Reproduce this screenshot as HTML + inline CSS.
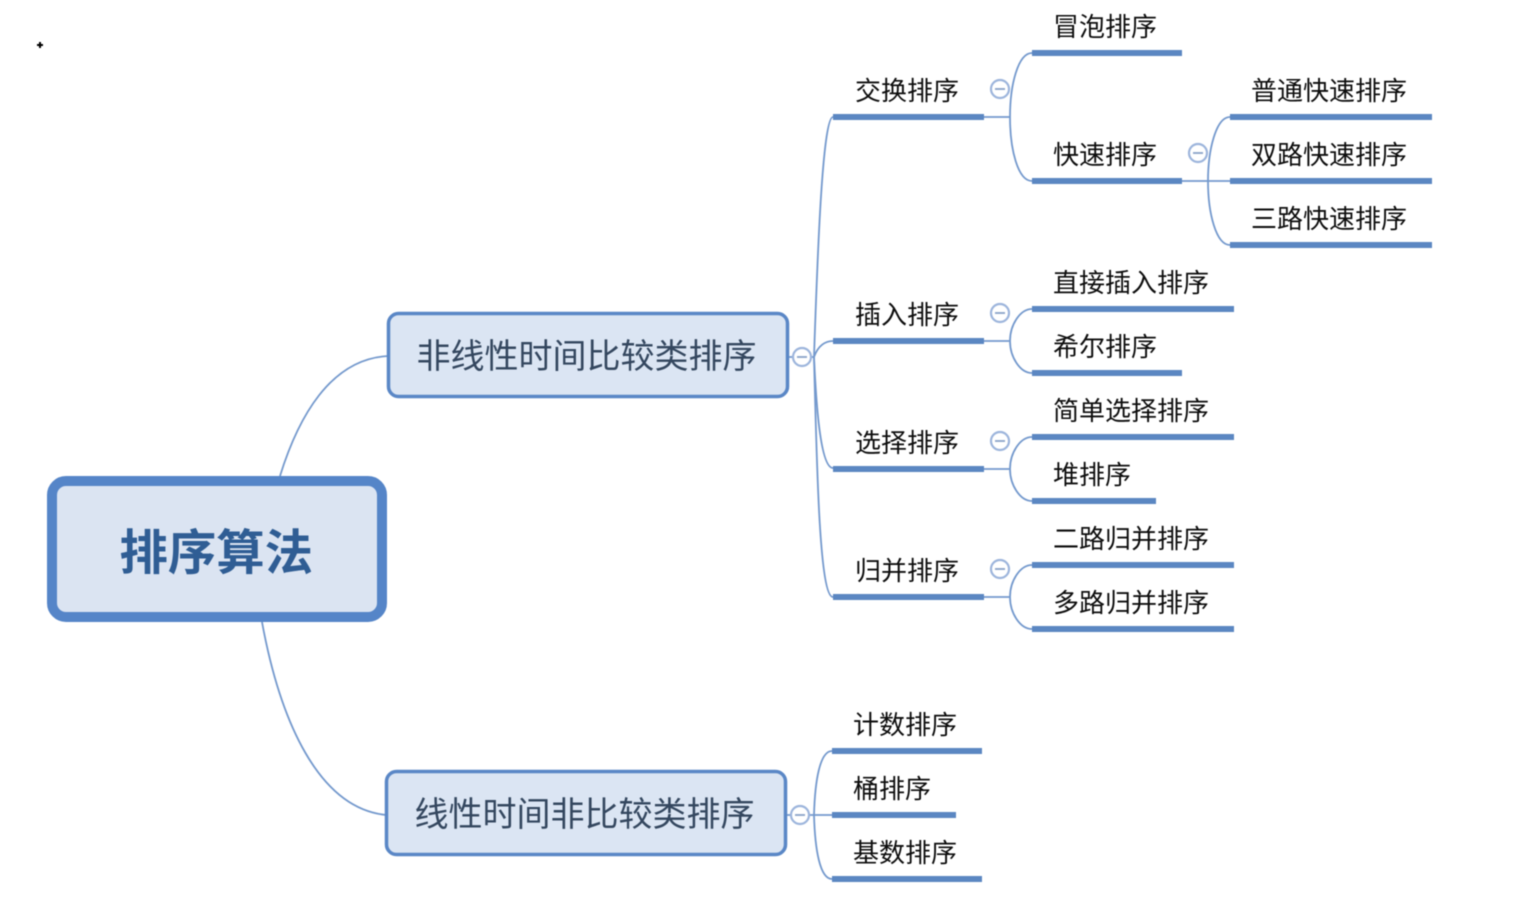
<!DOCTYPE html>
<html lang="zh"><head><meta charset="utf-8"><title>排序算法</title>
<style>
html,body{margin:0;padding:0;background:#fff;width:1521px;height:906px;overflow:hidden}
svg{display:block;filter:blur(0.4px)}
text{font-family:"Liberation Sans","Noto Sans CJK SC",sans-serif}
.t{font-size:26px;fill:#0d0d0d}
.b{font-size:34px;fill:#34475f}
.u{stroke:#5b87c2;stroke-width:6;fill:none}
.c{stroke:#7499cd;stroke-width:1.8;fill:none}
.k{fill:#fff;stroke:#9db5dc;stroke-width:2.2}
.m{stroke:#8aa2c8;stroke-width:1.8}
</style></head><body>
<svg width="1521" height="906" viewBox="0 0 1521 906" xmlns="http://www.w3.org/2000/svg">
<rect width="1521" height="906" fill="#fff"/>
<path d="M37 45H43M40 42V48" stroke="#000" stroke-width="2"/>
<!-- root connectors -->
<path class="c" d="M280 476C298 418 330 359 388 356"/>
<path class="c" d="M262 622C280 720 318 808 386 815"/>
<!-- root -->
<rect x="52" y="481" width="330" height="136" rx="14" fill="#dbe4f2" stroke="#5585c8" stroke-width="10"/>
<text x="119.5" y="569.5" font-size="48.4" font-weight="700" fill="#2f5d94">排序算法</text>
<!-- main boxes -->
<rect x="388.5" y="313.5" width="399" height="83" rx="10" fill="#dbe5f3" stroke="#5a87c6" stroke-width="3.5"/>
<text class="b" x="416.5" y="368">非线性时间比较类排序</text>
<rect x="386.5" y="771.5" width="399" height="83" rx="10" fill="#dbe5f3" stroke="#5a87c6" stroke-width="3.5"/>
<text class="b" x="414.5" y="826">线性时间非比较类排序</text>
<!-- connectors level 1 -->
<path class="c" d="M789 357H814"/>
<path class="c" d="M814 357C817 270 822 117 833 117"/>
<path class="c" d="M814 357C818 346 825 341 833 341"/>
<path class="c" d="M814 357C816 400 820 468 833 468"/>
<path class="c" d="M814 357C817 480 820 597 833 597"/>
<path class="c" d="M787 815H832"/>
<path class="c" d="M814 815C815 780 820 751 832 751"/>
<path class="c" d="M814 815C815 850 820 879 832 879"/>
<!-- level 2 connectors -->
<path class="c" d="M984 117H1010M1010 117C1010 85 1018 53 1032 53M1010 117C1010 150 1018 181 1032 181"/>
<path class="c" d="M1182 181H1230M1208 181C1208 150 1216 117 1230 117M1208 181C1208 213 1216 245 1230 245"/>
<path class="c" d="M984 341H1010M1010 341C1010 325 1020 309 1032 309M1010 341C1010 357 1020 373 1032 373"/>
<path class="c" d="M984 469H1010M1010 469C1010 453 1020 437 1032 437M1010 469C1010 485 1020 501 1032 501"/>
<path class="c" d="M984 597H1010M1010 597C1010 581 1020 565 1032 565M1010 597C1010 613 1020 629 1032 629"/>
<!-- underlines -->
<path class="u" d="M833 117H984M833 341H984M833 469H984M833 597H984"/>
<path class="u" d="M1032 53H1182M1032 181H1182M1032 309H1234M1032 373H1182M1032 437H1234M1032 501H1156M1032 565H1234M1032 629H1234"/>
<path class="u" d="M1230 117H1432M1230 181H1432M1230 245H1432"/>
<path class="u" d="M832 751H982M832 815H956M832 879H982"/>
<!-- collapse icons -->
<g>
<circle class="k" cx="1000" cy="89" r="9"/><path class="m" d="M995 89H1005"/>
<circle class="k" cx="1198" cy="153" r="9"/><path class="m" d="M1193 153H1203"/>
<circle class="k" cx="1000" cy="313" r="9"/><path class="m" d="M995 313H1005"/>
<circle class="k" cx="1000" cy="441" r="9"/><path class="m" d="M995 441H1005"/>
<circle class="k" cx="1000" cy="569" r="9"/><path class="m" d="M995 569H1005"/>
<circle class="k" cx="802" cy="357" r="9"/><path class="m" d="M797 357H807"/>
<circle class="k" cx="800" cy="815" r="9"/><path class="m" d="M795 815H805"/>
</g>
<!-- labels -->
<text class="t" x="855" y="100">交换排序</text>
<text class="t" x="855" y="324">插入排序</text>
<text class="t" x="855" y="452">选择排序</text>
<text class="t" x="855" y="580">归并排序</text>
<text class="t" x="1053" y="36">冒泡排序</text>
<text class="t" x="1053" y="164">快速排序</text>
<text class="t" x="1053" y="292">直接插入排序</text>
<text class="t" x="1053" y="356">希尔排序</text>
<text class="t" x="1053" y="420">简单选择排序</text>
<text class="t" x="1053" y="484">堆排序</text>
<text class="t" x="1053" y="548">二路归并排序</text>
<text class="t" x="1053" y="612">多路归并排序</text>
<text class="t" x="1251" y="100">普通快速排序</text>
<text class="t" x="1251" y="164">双路快速排序</text>
<text class="t" x="1251" y="228">三路快速排序</text>
<text class="t" x="853" y="734">计数排序</text>
<text class="t" x="853" y="798">桶排序</text>
<text class="t" x="853" y="862">基数排序</text>
</svg>
</body></html>
